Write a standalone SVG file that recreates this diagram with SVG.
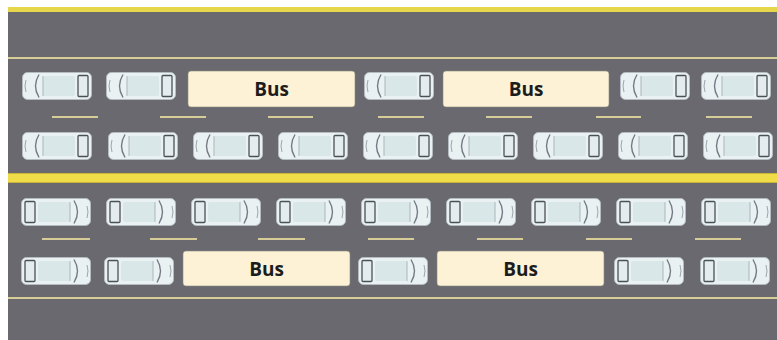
<svg xmlns="http://www.w3.org/2000/svg" xmlns:xlink="http://www.w3.org/1999/xlink" width="777" height="340" viewBox="0 0 777 340">
  <style>
    .road { fill: #6a6970; }
    .edge { stroke: #d9cf96; stroke-width: 2; }
    .dash { stroke: #d6cc98; stroke-width: 2; }
    .bus rect { fill: #fdf2d6; stroke: #8c8a80; stroke-width: 0.6; }
    .bus text { font-family: "Open Sans", "Liberation Sans", sans-serif; font-weight: 700; font-size: 19px; fill: #1c1c1c; text-anchor: middle; dominant-baseline: central; }
  </style>
  <defs>
    <!-- car seen from above, front to the left -->
    <g id="car">
      <rect x="0.5" y="0.5" width="69" height="27" rx="5" fill="#eaf1f3" stroke="#b4bcc2" stroke-width="1"/>
      <path d="M17 2.5 Q10 14 17 25.5" fill="none" stroke="#737c84" stroke-width="1.4"/>
      <path d="M4 8 Q2 14 4 20" fill="none" stroke="#9ca5ac" stroke-width="1"/>
      <rect x="21" y="4" width="32" height="20" rx="2" fill="#d9e7e8"/>
      <line x1="21" y1="4" x2="21" y2="24" stroke="#aab6bc" stroke-width="1"/>
      <rect x="56" y="3.5" width="10" height="21" rx="1" fill="#e4ecef" stroke="#4a5157" stroke-width="1.3"/>
    </g>
    <!-- same car, front to the right -->
    <g id="carR">
      <use xlink:href="#car" transform="translate(70 0) scale(-1 1)"/>
    </g>
  </defs>

  <rect width="777" height="340" fill="#ffffff"/>
  <rect class="road" x="8" y="10" width="769" height="330"/>

  <g id="markings">
    <rect x="8" y="7" width="769" height="5" fill="#e6d64a"/>
    <line class="edge" x1="8" y1="58" x2="777" y2="58"/>
    <rect x="8" y="173" width="769" height="10" fill="#f0dc48"/>
    <line x1="8" y1="173.5" x2="777" y2="173.5" stroke="#c9b53a" stroke-width="1"/>
    <line x1="8" y1="182.5" x2="777" y2="182.5" stroke="#c9b53a" stroke-width="1"/>
    <line class="edge" x1="8" y1="298" x2="777" y2="298"/>
    <g id="dashes-north">
      <line class="dash" x1="52" y1="117" x2="98" y2="117"/>
      <line class="dash" x1="160" y1="117" x2="206" y2="117"/>
      <line class="dash" x1="268" y1="117" x2="313" y2="117"/>
      <line class="dash" x1="378" y1="117" x2="424" y2="117"/>
      <line class="dash" x1="486" y1="117" x2="532" y2="117"/>
      <line class="dash" x1="596" y1="117" x2="641" y2="117"/>
      <line class="dash" x1="706" y1="117" x2="752" y2="117"/>
    </g>
    <g id="dashes-south">
      <line class="dash" x1="42" y1="239" x2="90" y2="239"/>
      <line class="dash" x1="150" y1="239" x2="197" y2="239"/>
      <line class="dash" x1="258" y1="239" x2="305" y2="239"/>
      <line class="dash" x1="368" y1="239" x2="414" y2="239"/>
      <line class="dash" x1="477" y1="239" x2="523" y2="239"/>
      <line class="dash" x1="586" y1="239" x2="632" y2="239"/>
      <line class="dash" x1="695" y1="239" x2="741" y2="239"/>
    </g>
  </g>

  <!-- lane 1: cars and buses -->
  <g id="lane1">
    <g id="l1-car1"><use xlink:href="#car" x="22" y="72"/></g>
    <g id="l1-car2"><use xlink:href="#car" x="106" y="72"/></g>
    <g id="l1-bus1" class="bus"><rect x="188" y="71" width="167" height="36" rx="3"/><text x="271.5" y="89">Bus</text></g>
    <g id="l1-car3"><use xlink:href="#car" x="364" y="72"/></g>
    <g id="l1-bus2" class="bus"><rect x="443" y="71" width="166" height="36" rx="3"/><text x="526" y="89">Bus</text></g>
    <g id="l1-car4"><use xlink:href="#car" x="620" y="72"/></g>
    <g id="l1-car5"><use xlink:href="#car" x="701" y="72"/></g>
  </g>

  <!-- lane 2: cars -->
  <g id="lane2">
    <g id="l2-car1"><use xlink:href="#car" x="22" y="132"/></g>
    <g id="l2-car2"><use xlink:href="#car" x="108" y="132"/></g>
    <g id="l2-car3"><use xlink:href="#car" x="193" y="132"/></g>
    <g id="l2-car4"><use xlink:href="#car" x="278" y="132"/></g>
    <g id="l2-car5"><use xlink:href="#car" x="363" y="132"/></g>
    <g id="l2-car6"><use xlink:href="#car" x="448" y="132"/></g>
    <g id="l2-car7"><use xlink:href="#car" x="533" y="132"/></g>
    <g id="l2-car8"><use xlink:href="#car" x="618" y="132"/></g>
    <g id="l2-car9"><use xlink:href="#car" x="703" y="132"/></g>
  </g>

  <!-- lane 3: cars -->
  <g id="lane3">
    <g id="l3-car1"><use xlink:href="#carR" x="21" y="198"/></g>
    <g id="l3-car2"><use xlink:href="#carR" x="106" y="198"/></g>
    <g id="l3-car3"><use xlink:href="#carR" x="191" y="198"/></g>
    <g id="l3-car4"><use xlink:href="#carR" x="276" y="198"/></g>
    <g id="l3-car5"><use xlink:href="#carR" x="361" y="198"/></g>
    <g id="l3-car6"><use xlink:href="#carR" x="446" y="198"/></g>
    <g id="l3-car7"><use xlink:href="#carR" x="531" y="198"/></g>
    <g id="l3-car8"><use xlink:href="#carR" x="616" y="198"/></g>
    <g id="l3-car9"><use xlink:href="#carR" x="701" y="198"/></g>
  </g>

  <!-- lane 4: cars and buses -->
  <g id="lane4">
    <g id="l4-car1"><use xlink:href="#carR" x="21" y="257"/></g>
    <g id="l4-car2"><use xlink:href="#carR" x="104" y="257"/></g>
    <g id="l4-bus1" class="bus"><rect x="183" y="251" width="167" height="35" rx="3"/><text x="266.5" y="268.5">Bus</text></g>
    <g id="l4-car3"><use xlink:href="#carR" x="358" y="257"/></g>
    <g id="l4-bus2" class="bus"><rect x="437" y="251" width="167" height="35" rx="3"/><text x="520.5" y="268.5">Bus</text></g>
    <g id="l4-car4"><use xlink:href="#carR" x="614" y="257"/></g>
    <g id="l4-car5"><use xlink:href="#carR" x="700" y="257"/></g>
  </g>
</svg>
